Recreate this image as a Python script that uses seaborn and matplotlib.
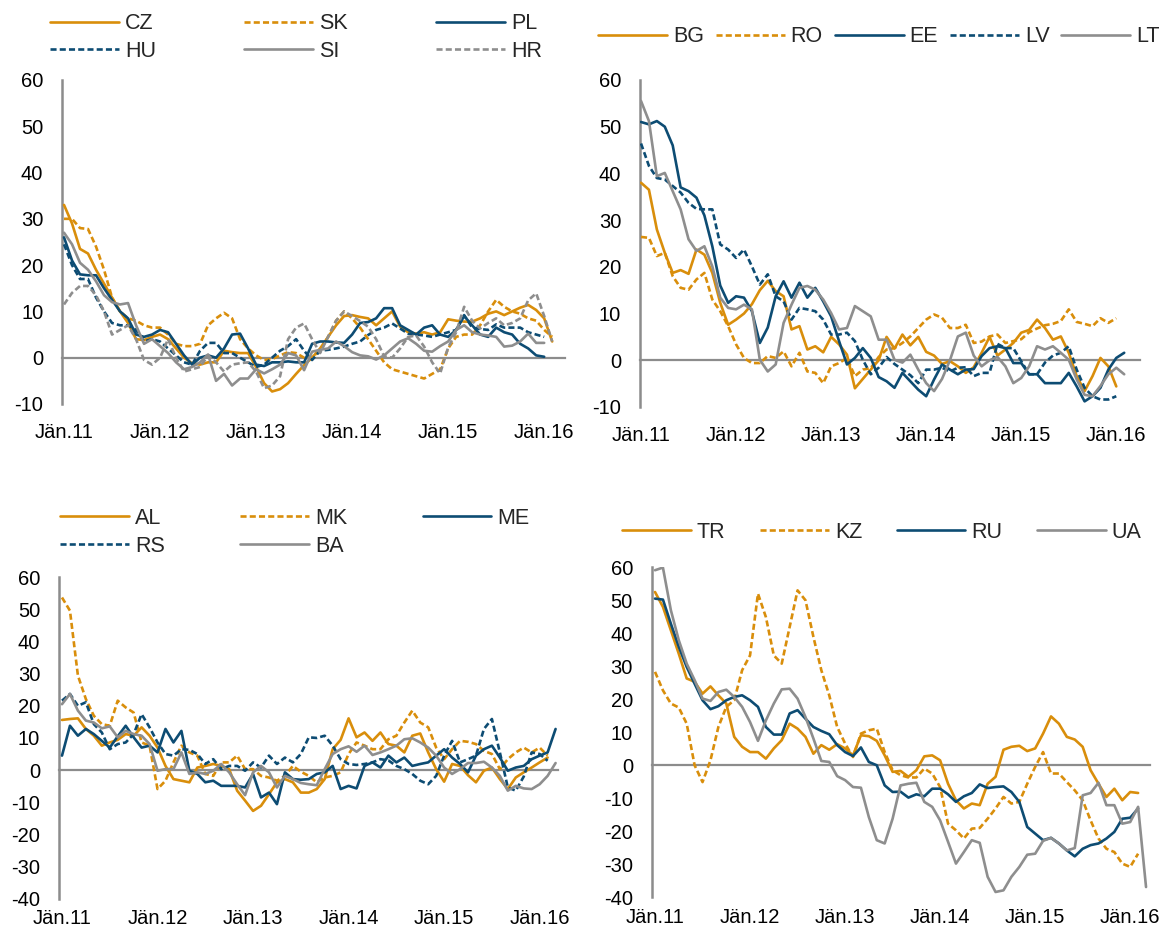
import matplotlib
matplotlib.use("Agg")
import matplotlib.pyplot as plt
import seaborn as sns

sns.set_style("white")
plt.rcParams["font.family"] = ["Liberation Sans", "DejaVu Sans"]
plt.rcParams["axes.unicode_minus"] = False

ORANGE = "#D98E0B"
BLUE = "#0D4C73"
GREY = "#8E8E8E"
AXIS = "#8C8C8C"

year_ticks = [0, 12, 24, 36, 48, 60]
year_labels = ["Jän.11", "Jän.12", "Jän.13", "Jän.14", "Jän.15", "Jän.16"]

# --- panel 1: CZ SK PL HU SI HR
cz = [33, 29, 23.5, 22.5, 19, 16, 13, 10, 7.5, 4, 3.8, 4.5,
      5, 4, 2, 0, -1.2, -1.5, -1, -1, 1.5, 1.2, 1, 1,
      -2, -5.5, -7.3, -6.8, -5.5, -3.5, -1.6, 0, 2, 4.5, 7, 9,
      9.2, 8.8, 8.5, 7, 8.5, 10, 6.7, 5.5, 5.2, 5.5, 5, 5.5,
      8.3, 8, 7.8, 7.8, 8.5, 9.5, 10, 9.2, 10, 10.8, 11.4, 10.3,
      8.5, 3.5]
sk = [30, 30, 28, 27.8, 24, 19, 13, 10, 8.5, 8, 7, 6.5,
      6.5, 5, 3, 2.5, 2.5, 3, 7, 8.5, 9.7, 8.5, 4, 2,
      0.5, -0.5, -0.3, 0.5, 1.2, 1, 0, 0, 1.5, 4.5, 8, 10,
      8.5, 6.5, 4, 1.5, -1, -2.5, -3, -3.5, -4, -4.5, -3.5, -2.5,
      2, 4.5, 5, 5, 7, 10, 12.5, 11, 10, 9.5, 8.5, 8,
      6, 4.5]
pl = [26, 21, 18, 17.8, 17.8, 15, 12.5, 10, 8.5, 5, 4.5, 5,
      6, 5.5, 3, 0.5, -1.5, 0, 0.5, 0, 2, 5, 5.2, 2,
      -1.5, -1.8, -1, -1, -0.8, -1, -1, 3, 3.5, 3.5, 3.3, 3.2,
      5, 7.5, 7.7, 8.5, 10.7, 10.7, 7, 6, 5, 6.5, 7, 5,
      4.5, 6, 9, 7, 5, 4.5, 6.5, 5.5, 5, 3, 2, 0.5,
      0.2]
hu = [24.5, 20, 17, 17, 13, 10, 7.5, 7, 7, 6, 3.5, 4,
      3.5, 2, 0.5, -1, -1.5, 1.5, 3.2, 3.2, 1, 1, 0, -1,
      -2, -1.5, 0, 1.5, 2.5, 4, 1.5, -0.5, 1.5, 1.7, 2, 2.4,
      3, 3.5, 4.9, 6, 6.5, 7.4, 6.3, 5.2, 5, 4.8, 4.5, 5,
      5.5, 6, 9.2, 6.5, 6.2, 6, 7.2, 6.5, 6.5, 6.5, 5.5, 5,
      4.5]
si = [27, 24.5, 20.5, 19, 16.5, 13.5, 12, 11.5, 11.8, 7, 3, 4,
      2.5, 1, -1, -2.5, -2, -1, 0.7, -5, -3.5, -6, -4.5, -4.5,
      -2.5, -3.4, -2.5, -1.5, 1, 0.5, -2.7, 1.3, 1.7, 2, 3.5, 2.5,
      1.2, 0.5, 0.3, -0.4, 0.5, 2, 3.5, 4.2, 3, 1.5, 1.3, 2.5,
      3.5, 6, 7, 5.5, 5, 4.8, 4.5, 2.4, 2.6, 3.5, 5.2, 3.2,
      3.2]
hr = [11.5, 14, 15.5, 15.5, 13.5, 10, 5, 6, 7, 4, -0.5, -1.5,
      0, 4, 0, -3, -2.5, -2, 0.5, -1, -3, -1.5, -1.2, -1,
      -3, -6.6, -6, -4, 4, 6.5, 7.4, 4, 1, 4.5, 8, 10,
      9, 7.9, 6.7, 4, 0.3, 0, 2, 4.5, 4.8, 2.4, -1, -3.4,
      2.2, 5.5, 11, 8, 6.3, 7.5, 8.5, 7, 7.5, 8.5, 12.4, 13.9,
      9, 3.5]

# --- panel 2: BG RO EE LV LT
bg = [38, 36.5, 28, 23, 18.7, 19.3, 18.5, 23.7, 22.6, 18.7, 12.3, 7.6,
      8.7, 10, 12, 15, 17, 14.8, 13.7, 6.6, 7.3, 2.3, 3, 1.7,
      5, 3.4, 1.2, -6, -4, -2, 0, 5, 2.5, 5.5, 3.2, 5,
      1.8, 1, -0.8, -0.2, -1.3, -2.7, -1.5, 1.6, 5, 1, 2.3, 3.7,
      5.9, 6.5, 8.7, 6.9, 4.4, 5.1, 1.6, -3.4, -6.6, -3.4, 0.5, -1.3,
      -5.6]
ro = [26.4, 26.2, 22.3, 23, 18, 15.5, 15.1, 17.3, 18.7, 13, 10.5, 7.3,
      3.4, 0.5, -0.6, -0.6, 0.9, 0.5, 1.9, -1.3, 1.6, -2.4, -2.7, -4.9,
      -1.3, -0.6, 0.5, -3.4, -2, -1.7, 0.7, 2.3, 2.6, 3.7, 5.1, 6.9,
      8.7, 9.8, 9.1, 6.9, 6.9, 7.6, 3.7, 4, 5.1, 5.5, 3.7, 4.1,
      4.5, 6, 6.8, 7.5, 7.8, 8.4, 10.9, 8.2, 7.8, 7.3, 9, 8,
      9]
ee = [51, 50.5, 51.2, 50, 46, 37, 36.2, 34.8, 31, 24.4, 16, 12.3,
      13.7, 13.4, 10.5, 3.7, 7, 13.7, 16.9, 13.4, 16.6, 13.4, 15.5, 12.6,
      9.4, 4.1, -0.9, 0.5, 2.6, 0.5, -3.6, -4.5, -5.9, -2.7, -4.5, -6.3,
      -7.7, -4.1, -0.9, -2, -3, -2, -1.9, 0.9, 2.6, 3, 2.6, -0.6,
      -0.6, -3, -3, -4.9, -4.9, -4.9, -2.7, -5.6, -8.8, -7.7, -5.9, -2,
      0.5, 1.6]
lv = [46.4, 41.6, 39, 38.7, 37.3, 35.9, 33.7, 32.4, 32.3, 32.3, 24.8, 23.7,
      21.9, 23.7, 20.1, 16.2, 18.4, 13.7, 12.6, 8.7, 11.2, 10.9, 10.5, 8.7,
      5.5, 5.5, 5.9, 4.1, 0.1, -3, -1.6, 0.7, -0.8, -2, -3.2, -4.9,
      -2, -2, -1.6, -2.4, -1.6, -1.5, -3.4, -2.7, -2.7, 3.5, 2.6, 2.6,
      -0.2, -3, -3, -0.5, 1, 1.6, 3, -2, -5.9, -7.7, -8.4, -8.4,
      -7.7]
lt = [55.5, 51.2, 39.4, 40.1, 36.2, 32.3, 25.9, 23.4, 24.4, 20.1, 13.4, 11.2,
      10.9, 11.9, 10.9, 0.1, -2.4, -0.9, 8, 11.9, 15.5, 15.9, 15.1, 13,
      10.1, 6.6, 6.9, 11.6, 10.5, 9.4, 4.4, 4.4, 0.1, -0.5, 1.2, -2,
      -4.9, -6.6, -4, 0, 5.1, 5.9, 1, -1.3, 0, 0.7, -1.3, -4.9,
      -3.8, -1.3, 3, 2.3, 3, 1.6, 0.1, -4.1, -7.4, -7.7, -5.5, -3,
      -1.6, -3]

# --- panel 3: AL MK ME RS BA
al = [15.6, 15.9, 16.1, 12.8, 10.7, 7.6, 8.6, 9.4, 11.2, 10.7, 13.3, 10.7,
      7, 1.3, -2.8, -3.3, -3.8, 0.8, 1.3, 1.9, 1.3, 0.3, -6.4, -9.5,
      -12.7, -11.1, -7.5, -3.8, -2.8, -3.8, -7, -7, -5.9, -2.8, 6.5, 9.4,
      16.1, 10.2, 11.7, 9.1, 11.7, 8.1, 7.6, 5.5, 10.7, 11.4, 5.5, 0.3,
      -3.6, 1.9, 1.3, -1.6, -3.8, -0.2, 0.8, -2.8, -5.9, -2.3, -0.7, 0.8,
      2.4, 3.9]
mk = [53.7, 49.6, 29.4, 22.1, 16.9, 14.3, 13.8, 21.6, 19.5, 17.9, 8.6, 7.6,
      -5.9, -3.3, 2.4, 7.6, 5.5, 4.5, -1.2, -1.8, 2.4, 2.4, 4.5, 0.3,
      0.3, -1.8, -2.3, -3.3, -1.8, 1.3, -0.5, -1.8, -3.8, -2.3, -1.8, -0.7,
      5, 8.6, 7.6, 6.5, 6.5, 9.6, 10.7, 14.8, 18.5, 14.8, 13.3, 7,
      3.4, 6.5, 9.1, 8.8, 8.1, 6, 5, 0.3, 3.4, 5.5, 7, 5.5,
      7, 4.5]
me = [4.5, 13.8, 10.7, 12.8, 11.2, 9.1, 7, 10.5, 13.8, 10.2, 7, 7.6,
      5.5, 12.8, 8.6, 12.2, -0.2, -1.2, -3.8, -3.3, -4.9, -4.9, -4.9, -5.4,
      -1.2, -8.5, -7, -10.6, -0.7, -2.8, -3, -2.8, -1.2, -0.7, 1.3, -5.9,
      -4.9, -5.7, 1.3, 2.4, 0.8, 4.5, 2.4, 3.9, 1.3, 1.9, 2.4, 4.5,
      6.5, 3.9, 1.9, -0.7, 4.5, 6.5, 7.6, 3.9, -0.2, 0.8, 1.3, 3.4,
      4.5, 5.5, 12.8]
rs = [21.6, 23.7, 20, 21.1, 14.3, 11.7, 6.5, 8.1, 8.6, 11.2, 17.4, 13.3,
      8.6, 5, 4.5, 6.5, 6.3, 5, 1.9, 3.4, 0.3, 1.3, 1.3, -0.2,
      2.4, 0.8, 4.5, 1.9, 3.9, 2.4, 5, 10.2, 10, 10.7, 7.6, 3.4,
      1.9, 1.6, 1.9, 2.4, 3.4, 3, 1.3, 0.3, -1.2, -3.3, -4.4, -1.8,
      4.5, 9.1, 2.4, 3.4, 4.5, 12.8, 15.9, 5.5, -5.4, -6.4, -2, 5.5,
      5, 2.9]
ba = [20.5, 23.7, 18.5, 15.4, 14.8, 13, 13.6, 10.2, 12.2, 11.2, 10.7, 8.1,
      -0.2, 0.3, 0.3, 5.5, -1.2, -0.7, -1.2, -0.2, 1.9, -0.7, -4.4, -7.8,
      -0.7, 1.3, -0.7, -5.4, -1.8, -2.8, -4, -4.4, -4.7, 0.3, 5, 6.5,
      7.4, 5.7, 7.6, 4.7, 5.5, 6.5, 7.6, 9.6, 9.9, 8.6, 7, 4.5,
      0.8, -1.2, 0.3, 2.2, 2.2, 2.6, 0.8, -1.8, -6.4, -4.9, -5.7, -5.9,
      -4.4, -1.8, 2.2]

# --- panel 4: TR KZ RU UA
tr = [52.5, 48, 40.9, 33.8, 26.3, 25.3, 21.7, 23.9, 21.2, 18.7, 8.6, 5.6,
      4, 4, 2, 5.1, 7.6, 12.6, 11.1, 8.6, 3.5, 6.1, 4.7, 6.4,
      5.1, 3, 9.1, 8.8, 7.4, 3, -2, -1.7, -3.5, -1.5, 2.7, 3,
      1.5, -5.6, -10.6, -13.1, -11.6, -12.1, -5.6, -3.5, 4.7, 5.6, 5.9, 4.3,
      5.1, 9.6, 14.8, 12.6, 8.6, 7.8, 5.6, -1.5, -5.6, -9.6, -7.1, -10.6,
      -8.1, -8.4]
kz = [28.3, 22.7, 18.7, 17.5, 12.6, 0, -5.1, 1.5, 11.6, 17.7, 19.7, 28.8,
      33.3, 52, 44.9, 33.3, 30.8, 41.9, 53, 50, 38.9, 28.8, 21.2, 11.6,
      6.6, 2.5, 9.6, 10.6, 11.1, 4, -1.5, -3, -3.7, -3.7, -1, -2.5,
      -6.6, -17.7, -19.7, -22.2, -19.2, -19, -16.2, -13.1, -9.6, -11.6, -11.1, -5.6,
      -0.5, 4, -2.5, -2.5, -5.1, -7.6, -10.6, -16.7, -22.2, -25.3, -26.3, -29.8,
      -30.8, -26.8]
ru = [50.5, 50.2, 42.9, 35.9, 29.8, 24.7, 19.7, 17, 17.9, 19.7, 20.7, 21.2,
      19.7, 17.7, 11.6, 9.3, 9.3, 15.7, 16.7, 14.1, 11.6, 10.4, 9.4, 6.1,
      4, 2.8, 5.4, 1, 0, -6.1, -8.1, -8, -9.8, -8.8, -9.4, -7.1,
      -7.1, -8.8, -11.1, -9.4, -8.4, -5.8, -6.9, -6.6, -6.4, -8.1, -11.1, -18.7,
      -20.7, -22.7, -22, -23.7, -25.8, -27.6, -25.3, -24.2, -23.7, -22.2, -20.2, -16.2,
      -15.9, -13.1]
ua = [59.1, 59.9, 47, 37.9, 30.8, 25.8, 20.2, 19.5, 22.2, 22.9, 20.7, 17.7,
      13.1, 7.4, 13.6, 18.7, 23, 23.2, 20.2, 14.6, 8.1, 1.3, 1, -3.3,
      -4.5, -6.6, -6.8, -15.7, -22.7, -23.7, -16.2, -6.1, -5.6, -5.3, -11.1, -12.6,
      -16.7, -23.2, -29.8, -26.3, -22.7, -23.5, -33.8, -38.4, -37.9, -33.8, -30.8, -27.1,
      -26.8, -22.9, -22, -23.7, -25.8, -25.1, -9.1, -8.4, -5.3, -12.1, -12.1, -17.7,
      -17.2, -12.6, -36.9]

DASH = (0, (2.3, 1.2))
LEGEND_FS = 15.5
TICK_FS = 14.5

panels = [
    dict(rect=[0.0530, 0.5670, 0.4299, 0.3473], xlim=(-0.25, 62.6), ylim=(-10, 60),
         series=[("CZ", cz, ORANGE, False), ("SK", sk, ORANGE, True), ("PL", pl, BLUE, False),
                 ("HU", hu, BLUE, True), ("SI", si, GREY, False), ("HR", hr, GREY, True)],
         order=["CZ", "HU", "SK", "SI", "PL", "HR"], ncol=3, anchor=(0.0427, 0.9860),
         colsp=4.1, xpad=13.5),
    dict(rect=[0.5470, 0.5638, 0.4274, 0.3505], xlim=(-0.13, 63), ylim=(-10, 60),
         series=[("BG", bg, ORANGE, False), ("RO", ro, ORANGE, True), ("EE", ee, BLUE, False),
                 ("LV", lv, BLUE, True), ("LT", lt, GREY, False)],
         order=["BG", "RO", "EE", "LV", "LT"], ncol=5, anchor=(0.5111, 0.9720),
         colsp=0.55, xpad=13.5),
    dict(rect=[0.0504, 0.0368, 0.4265, 0.3445], xlim=(-0.38, 62.3), ylim=(-40, 60),
         series=[("AL", al, ORANGE, False), ("MK", mk, ORANGE, True), ("ME", me, BLUE, False),
                 ("RS", rs, BLUE, True), ("BA", ba, GREY, False)],
         order=["AL", "RS", "MK", "BA", "ME"], ncol=3, anchor=(0.0513, 0.4555),
         colsp=3.5, xpad=7.5),
    dict(rect=[0.5570, 0.0383, 0.4259, 0.3537], xlim=(-0.42, 62.5), ylim=(-40, 60),
         series=[("TR", tr, ORANGE, False), ("KZ", kz, ORANGE, True), ("RU", ru, BLUE, False),
                 ("UA", ua, GREY, False)],
         order=["TR", "KZ", "RU", "UA"], ncol=4, anchor=(0.5316, 0.4405),
         colsp=1.6, xpad=7.5),
]

fig = plt.figure(figsize=(11.7, 9.33), dpi=100)

for p in panels:
    ax = fig.add_axes(p["rect"])
    for i, (name, values, color, dashed) in enumerate(p["series"]):
        sns.lineplot(x=list(range(len(values))), y=values, ax=ax, color=color,
                     linewidth=1.9, linestyle=DASH if dashed else "-",
                     label=name, zorder=3 + i)
    ax.set_xlim(*p["xlim"])
    ax.set_ylim(*p["ylim"])
    ax.set_yticks(range(p["ylim"][0], p["ylim"][1] + 1, 10))
    ax.set_xlabel("")
    ax.set_ylabel("")

    for s in ("top", "right"):
        ax.spines[s].set_visible(False)
    ax.spines["left"].set_color(AXIS)
    ax.spines["left"].set_linewidth(1.8)
    ax.spines["bottom"].set_position(("data", 0))
    ax.spines["bottom"].set_color(AXIS)
    ax.spines["bottom"].set_linewidth(1.6)

    ax.tick_params(axis="y", direction="out", length=5, width=1.3, color=AXIS,
                   labelsize=TICK_FS, pad=8.5, labelcolor="black")
    ax.set_xticks(year_ticks)
    ax.tick_params(axis="x", direction="out", length=4, width=1.3, color=AXIS,
                   labelbottom=False)

    sec = ax.secondary_xaxis("bottom")
    sec.set_xticks(year_ticks, year_labels)
    sec.tick_params(length=0, pad=p["xpad"], labelsize=TICK_FS, labelcolor="black")
    sec.spines["bottom"].set_visible(False)

    handles, labels = ax.get_legend_handles_labels()
    lookup = dict(zip(labels, handles))
    ax.legend([lookup[n] for n in p["order"]], p["order"], loc="upper left",
              bbox_to_anchor=p["anchor"], bbox_transform=fig.transFigure,
              ncol=p["ncol"], frameon=False, fontsize=LEGEND_FS, handlelength=3.2,
              handletextpad=0.28, columnspacing=p["colsp"], labelspacing=0.32,
              borderpad=0, borderaxespad=0)

fig.savefig("out.png", dpi=100)
